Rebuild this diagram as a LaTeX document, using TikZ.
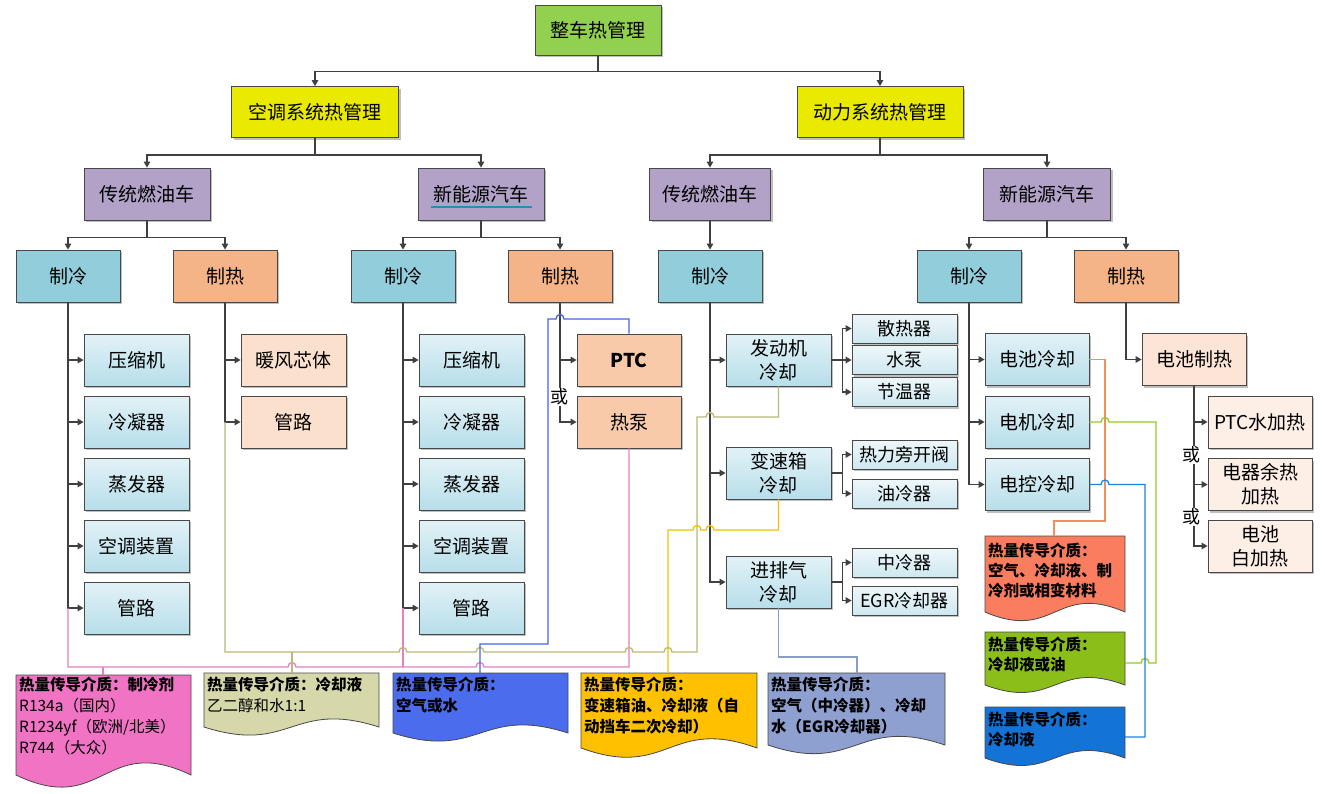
\documentclass[tikz,border=0pt]{standalone}
\usepackage{fontspec}
\setmainfont{Noto Sans CJK SC}
\usetikzlibrary{arrows.meta,shadows}
\definecolor{lineg}{RGB}{64,64,64}
\definecolor{bord}{RGB}{72,72,72}
\definecolor{cgreen}{RGB}{146,208,80}
\definecolor{cyel}{RGB}{234,234,0}
\definecolor{cpur}{RGB}{178,162,199}
\definecolor{ccool}{RGB}{146,205,220}
\definecolor{cheat}{RGB}{245,180,135}
\definecolor{ckt}{RGB}{226,242,247}
\definecolor{ckb}{RGB}{183,222,234}
\definecolor{hka}{RGB}{251,224,205}
\definecolor{hkb}{RGB}{248,202,170}
\definecolor{sbt}{RGB}{238,247,250}
\definecolor{sbb}{RGB}{206,232,240}
\definecolor{bhc}{RGB}{252,228,214}
\definecolor{pwc}{RGB}{253,238,230}
\definecolor{npink}{RGB}{240,115,196}
\definecolor{nolive}{RGB}{215,216,170}
\definecolor{nblue}{RGB}{76,108,238}
\definecolor{nyel}{RGB}{255,192,0}
\definecolor{nslate}{RGB}{142,160,207}
\definecolor{norange}{RGB}{250,125,95}
\definecolor{ngreen}{RGB}{140,190,25}
\definecolor{nblueb}{RGB}{20,115,215}
\definecolor{lpinkc}{RGB}{228,128,195}
\definecolor{lolivec}{RGB}{185,185,120}
\definecolor{lbluec}{RGB}{70,100,225}
\definecolor{lyelc}{RGB}{245,190,0}
\definecolor{lslatec}{RGB}{135,158,198}
\definecolor{lorangec}{RGB}{245,140,90}
\definecolor{lgreenc}{RGB}{150,200,40}
\definecolor{lblueb}{RGB}{30,130,225}
\definecolor{ulc}{RGB}{40,140,180}
\newcommand{\docshape}[6]{\filldraw[fill=#6, draw=bord, line width=0.8pt] (#1,#2) -- (#3,#2) -- (#3,#4) .. controls ({(#1+#3)/2},{#4-#5}) and ({(#1+#3)/2},{#4+#5}) .. (#1,#4) -- cycle;}
\begin{document}
\begin{tikzpicture}[x=1pt,y=-1pt,
  conn/.style={draw=lineg, line width=1.2pt, -{Triangle[length=6pt,width=6.5pt]}},
  bx/.style={draw=bord, line width=0.8pt, inner sep=0pt, align=center,
    font=\fontsize{19}{24}\selectfont,
    drop shadow={shadow xshift=2pt, shadow yshift=-2pt, opacity=0.25, fill=black}},
  lvl/.style={bx, minimum width=104, minimum height=52},
  ck/.style={bx, minimum width=105, minimum height=52, top color=ckt, bottom color=ckb},
  sb/.style={bx, minimum width=105, minimum height=29, top color=sbt, bottom color=sbb, font=\fontsize{18}{22}\selectfont},
  orlbl/.style={fill=white, inner sep=0.5pt, font=\fontsize{18}{20}\selectfont},
  ntext/.style={anchor=north west, inner sep=0pt, align=left, font=\fontsize{15.5}{21}\selectfont\bfseries},
  colln/.style={line width=1.3pt},
  lp/.style={colln, draw=lpinkc}, lo/.style={colln, draw=lolivec},
  lb/.style={colln, draw=lbluec}, ly/.style={colln, draw=lyelc},
  ls/.style={colln, draw=lslatec}, lor/.style={colln, draw=lorangec},
  lg/.style={colln, draw=lgreenc}, lbb/.style={colln, draw=lblueb}]
\fill[white] (0,0) rectangle (1325,793);
\useasboundingbox (0,0) rectangle (1325,793);

% ---------- nodes ----------
\node[bx, fill=cgreen, minimum width=126, minimum height=50] (root) at (598,30) {整车热管理};
\node[bx, fill=cyel, minimum width=167, minimum height=51] (ac) at (315,112) {空调系统热管理};
\node[bx, fill=cyel, minimum width=166, minimum height=51] (pw) at (880,112) {动力系统热管理};
\node[bx, fill=cpur, minimum width=126, minimum height=52] (act) at (147,194) {传统燃油车};
\node[bx, fill=cpur, minimum width=126, minimum height=52] (acn) at (481,194) {新能源汽车};
\node[bx, fill=cpur, minimum width=121, minimum height=52] (pwt) at (710,194) {传统燃油车};
\node[bx, fill=cpur, minimum width=127, minimum height=52] (pwn) at (1047,194) {新能源汽车};
\draw[ulc, line width=1.5pt] (431,207) -- (532,207);

\node[lvl, fill=ccool] (c1) at (68,276) {制冷};
\node[lvl, fill=cheat] (h1) at (225,276) {制热};
\node[lvl, fill=ccool] (c2) at (403,276) {制冷};
\node[lvl, fill=cheat] (h2) at (560,276) {制热};
\node[lvl, fill=ccool] (c3) at (710,276) {制冷};
\node[lvl, fill=ccool] (c4) at (969,276) {制冷};
\node[lvl, fill=cheat] (h4) at (1126,276) {制热};

\node[ck] (c1a) at (136.5,360) {压缩机};
\node[ck] (c1b) at (136.5,422) {冷凝器};
\node[ck] (c1c) at (136.5,484) {蒸发器};
\node[ck] (c1d) at (136.5,546) {空调装置};
\node[ck] (c1e) at (136.5,608) {管路};

\node[bx, fill=hka, minimum width=105, minimum height=52] (h1a) at (293.5,360) {暖风芯体};
\node[bx, fill=hka, minimum width=105, minimum height=52] (h1b) at (293.5,422) {管路};

\node[ck] (c2a) at (471.5,360) {压缩机};
\node[ck] (c2b) at (471.5,422) {冷凝器};
\node[ck] (c2c) at (471.5,484) {蒸发器};
\node[ck] (c2d) at (471.5,546) {空调装置};
\node[ck] (c2e) at (471.5,608) {管路};

\node[bx, fill=hkb, minimum width=104, minimum height=52] (ptc) at (629,360) {\bfseries PTC};
\node[bx, fill=hkb, minimum width=104, minimum height=52] (hp) at (629,422) {热泵};

\node[ck] (eng) at (778.5,360) {发动机\\冷却};
\node[ck] (gb) at (778.5,473) {变速箱\\冷却};
\node[ck] (ie) at (778.5,582) {进排气\\冷却};

\node[sb] (s1) at (904.5,328.5) {散热器};
\node[sb] (s2) at (904.5,360) {水泵};
\node[sb] (s3) at (904.5,392) {节温器};
\node[sb] (s4) at (904.5,454.5) {热力旁开阀};
\node[sb] (s5) at (904.5,493.5) {油冷器};
\node[sb] (s6) at (904.5,562.5) {中冷器};
\node[sb] (s7) at (904.5,600.5) {EGR冷却器};

\node[ck, minimum width=104] (bc) at (1037,359.5) {电池冷却};
\node[ck, minimum width=104] (mc) at (1037,422) {电机冷却};
\node[ck, minimum width=104] (ec) at (1037,484.5) {电控冷却};

\node[bx, fill=bhc, minimum width=104, minimum height=52] (bh) at (1194,359.5) {电池制热};
\node[bx, fill=pwc, minimum width=104, minimum height=52] (pw1) at (1260,422) {PTC水加热};
\node[bx, fill=pwc, minimum width=104, minimum height=52] (pw2) at (1260,484.5) {电器余热\\加热};
\node[bx, fill=pwc, minimum width=104, minimum height=52] (pw3) at (1260,546) {电池\\白加热};

% ---------- tree connectors ----------
\draw[conn] (root.south) -- ++(0,16) -| (ac.north);
\draw[conn] (root.south) -- ++(0,16) -| (pw.north);
\draw[conn] (ac.south) -- ++(0,17) -| (act.north);
\draw[conn] (ac.south) -- ++(0,17) -| (acn.north);
\draw[conn] (pw.south) -- ++(0,17) -| (pwt.north);
\draw[conn] (pw.south) -- ++(0,17) -| (pwn.north);
\draw[conn] (act.south) -- ++(0,17) -| (c1.north);
\draw[conn] (act.south) -- ++(0,17) -| (h1.north);
\draw[conn] (acn.south) -- ++(0,17) -| (c2.north);
\draw[conn] (acn.south) -- ++(0,17) -| (h2.north);
\draw[conn] (pwt.south) -- (c3.north);
\draw[conn] (pwn.south) -- ++(0,17) -| (c4.north);
\draw[conn] (pwn.south) -- ++(0,17) -| (h4.north);

\foreach \k in {c1a,c1b,c1c,c1d,c1e} \draw[conn] (c1.south) |- (\k.west);
\foreach \k in {h1a,h1b} \draw[conn] (h1.south) |- (\k.west);
\foreach \k in {c2a,c2b,c2c,c2d,c2e} \draw[conn] (c2.south) |- (\k.west);
\foreach \k in {ptc,hp} \draw[conn] (h2.south) |- (\k.west);
\foreach \k in {eng,gb,ie} \draw[conn] (c3.south) |- (\k.west);
\foreach \k in {s1,s2,s3} \draw[conn] (eng.east) -- ++(11,0) |- (\k.west);
\foreach \k in {s4,s5} \draw[conn] (gb.east) -- ++(11,0) |- (\k.west);
\foreach \k in {s6,s7} \draw[conn] (ie.east) -- ++(11,0) |- (\k.west);
\foreach \k in {bc,mc,ec} \draw[conn] (c4.south) |- (\k.west);
\draw[conn] (h4.south) |- (bh.west);
\foreach \k in {pw1,pw2,pw3} \draw[conn] (bh.south) |- (\k.west);

\node[orlbl] (or1) at (559,397) {或};
\node[orlbl] (or2) at (1191,455) {或};
\node[orlbl] (or3) at (1191,517) {或};

% ---------- notes ----------
\docshape{16}{675}{191}{775}{42}{npink}
\docshape{204}{673}{379}{727}{28}{nolive}
\docshape{393}{673}{568}{733}{28}{nblue}
\docshape{581}{673}{757}{748}{32}{nyel}
\docshape{768}{673}{945}{745}{30}{nslate}
\docshape{985}{536}{1125}{612}{30}{norange}
\docshape{985}{632}{1125}{685}{26}{ngreen}
\docshape{985}{707}{1125}{758}{26}{nblueb}

\node[ntext] (n1) at (19,677) {热量传导介质：制冷剂\\{\mdseries R134a（国内）}\\{\mdseries R1234yf（欧洲/北美）}\\{\mdseries R744（大众）}};
\node[ntext] (n2) at (207,677) {热量传导介质：冷却液\\{\mdseries 乙二醇和水1:1}};
\node[ntext] (n3) at (396,677) {热量传导介质：\\空气或水};
\node[ntext] (n4) at (584,677) {热量传导介质：\\变速箱油、冷却液（自\\动挡车二次冷却）};
\node[ntext] (n5) at (771,677) {热量传导介质：\\空气（中冷器）、冷却\\水（EGR冷却器）};
\node[ntext, font=\fontsize{15.5}{20}\selectfont\bfseries] (n6) at (988,543) {热量传导介质：\\空气、冷却液、制\\冷剂或相变材料};
\node[ntext, font=\fontsize{15.5}{20}\selectfont\bfseries] (n7) at (988,637) {热量传导介质：\\冷却液或油};
\node[ntext, font=\fontsize{15.5}{20}\selectfont\bfseries] (n8) at (988,712) {热量传导介质：\\冷却液};

\coordinate (t1) at (103,675);
\coordinate (t2) at (292,673);
\coordinate (t3) at (480,673);
\coordinate (t4) at (668,673);
\coordinate (t5) at (857,673);
\coordinate (t6) at (1054,536);
\coordinate (t7) at (1125,663);
\coordinate (t8) at (1125,737);

% ---------- medium connectors ----------
% pink: refrigerant
\draw[lp] (c1.south |- c1e.west) -- (68,667) -- (288,667) .. controls (288,661) and (296,661) .. (296,667)
  -- (476,667) .. controls (476,661) and (484,661) .. (484,667) -- (629,667) -- (hp.south);
\draw[lp] (c2.south |- c2e.west) -- (403,667);
\draw[lp] (103,667) -- (t1);
% olive: coolant
\draw[lo] (h1.south |- h1b.west) -- (225,652) -- (399,652) .. controls (399,646) and (407,646) .. (407,652)
  -- (476,652) .. controls (476,646) and (484,646) .. (484,652)
  -- (625,652) .. controls (625,646) and (633,646) .. (633,652)
  -- (664,652) .. controls (664,646) and (672,646) .. (672,652)
  -- (697,652) -- (697,417) -- (706,417) .. controls (706,411) and (714,411) .. (714,417)
  -- (778.5,417) -- (eng.south);
\draw[lo] (292,652) -- (t2);
% blue: air or water
\draw[lb] (ptc.north) -- (629,319) -- (564,319) .. controls (564,313) and (556,313) .. (556,319)
  -- (548,319) -- (548,644) -- (480,644) -- (t3);
% yellow: gearbox
\draw[ly] (gb.south) -- (778.5,530) -- (714,530) .. controls (714,524) and (706,524) .. (706,530)
  -- (701,530) .. controls (701,524) and (693,524) .. (693,530) -- (668,530) -- (t4);
% slate: intake
\draw[ls] (ie.south) -- (778.5,657) -- (857,657) -- (t5);
% right side
\draw[lor] (bc.east) -- (1105,359.5) -- (1105,521) -- (1054,521) -- (t6);
\draw[lg] (mc.east) -- (1101,422) .. controls (1101,416) and (1109,416) .. (1109,422)
  -- (1156,422) -- (1156,663) -- (1149,663) .. controls (1149,657) and (1141,657) .. (1141,663) -- (t7);
\draw[lbb] (ec.east) -- (1101,484.5) .. controls (1101,478.5) and (1109,478.5) .. (1109,484.5)
  -- (1145,484.5) -- (1145,737) -- (t8);
\end{tikzpicture}
\end{document}
